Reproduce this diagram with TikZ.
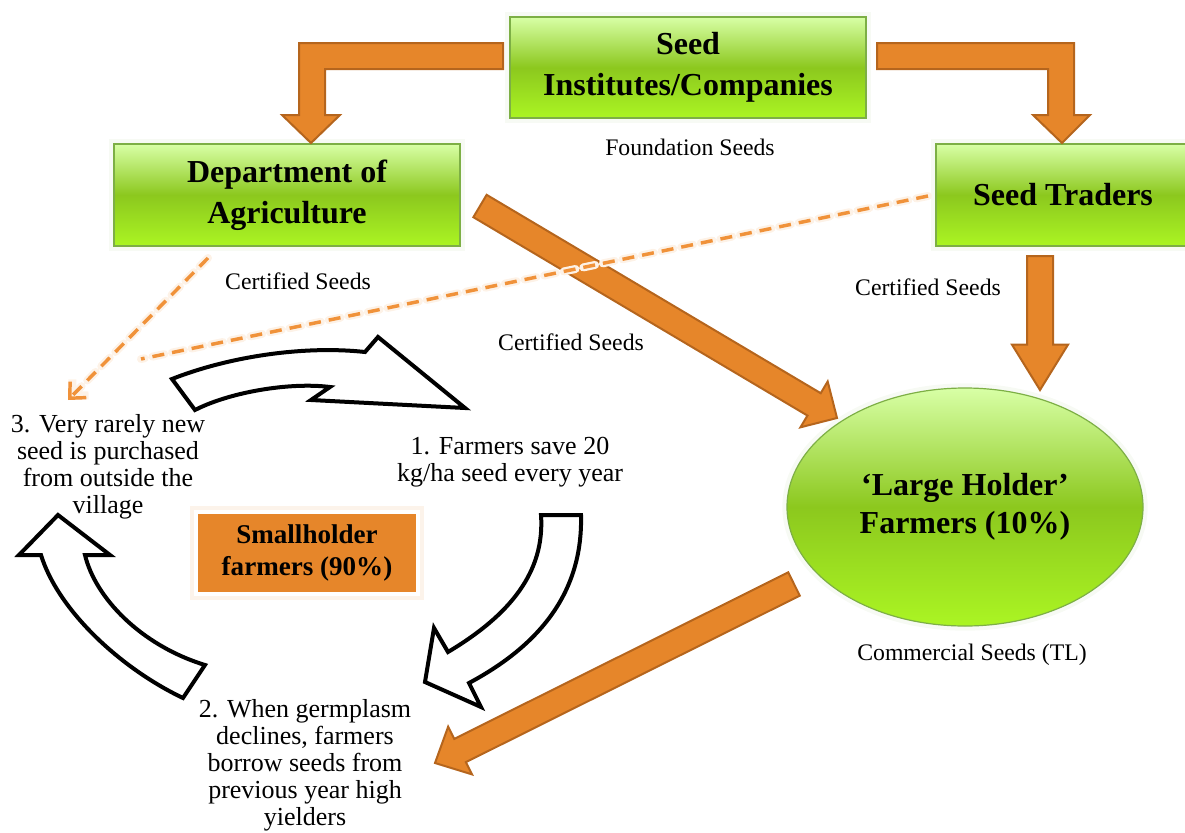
\documentclass[tikz,border=0pt]{standalone}
\usepackage{fontspec}
\setmainfont{Liberation Serif}
\usetikzlibrary{arrows.meta,calc,shapes.geometric}

\definecolor{seedorange}{HTML}{E6862A}
\definecolor{seedorangedark}{HTML}{B5651D}
\definecolor{dashorange}{HTML}{F0923A}
\definecolor{greentop}{HTML}{D8FFA6}
\definecolor{greenmid}{HTML}{8CC81E}
\definecolor{greenbot}{HTML}{ABF523}
\definecolor{greenline}{HTML}{7DAF45}

\tikzset{
  greenbox/.style={draw=greenline, line width=0.9pt, top color=greentop,
    bottom color=greenbot, middle color=greenmid, align=center, inner sep=0pt,
    font=\bfseries\fontsize{24}{31}\selectfont,
    preaction={draw=greenline!6, line width=7pt}},
  orangebox/.style={fill=seedorange, draw=white, line width=2.5pt, align=center,
    inner sep=0pt, font=\bfseries\fontsize{20.3}{24}\selectfont,
    preaction={draw=seedorange!10, line width=9pt}},
  blockarrow/.style={fill=seedorange, draw=seedorangedark, line width=1.5pt},
  cyclearrow/.style={fill=white, draw=black, line width=3pt},
  dashlink/.style={draw=dashorange, line width=2.6pt, dash pattern=on 9pt off 6pt,
    preaction={draw=dashorange!12, line width=6pt, dash pattern=on 9pt off 6pt,
      line cap=round}},
  steptext/.style={align=center, inner sep=0pt, font=\fontsize{19.5}{20.25}\selectfont},
  seedlabel/.style={inner sep=0pt, font=\fontsize{17.8}{20}\selectfont},
}

% straight block arrow: start, tip, head length, head half width
\newcommand\blockarrow[4]{%
  \coordinate (ba-h) at ($(#2)!#3!(#1)$);
  \draw[blockarrow] ($(#1)!9.75pt!90:(#2)$) -- ($(ba-h)!9.75pt!90:(#2)$)
    -- ($(ba-h)!#4!90:(#2)$) -- (#2) -- ($(ba-h)!#4!-90:(#2)$)
    -- ($(ba-h)!9.75pt!-90:(#2)$) -- ($(#1)!9.75pt!-90:(#2)$) -- cycle;
}

\begin{document}
\begin{tikzpicture}[x=0.75pt,y=-0.75pt]
    \useasboundingbox (0,0) rectangle (1185,832);

    % Suppliers
    \node[greenbox, minimum width=267pt, minimum height=75.75pt] (inst) at (688,67.5) {Seed\\Institutes/Companies};
    \node[greenbox, minimum width=259.5pt, minimum height=76.5pt] (dept) at (287,195) {Department of\\Agriculture};
    \node[greenbox, minimum width=190.5pt, minimum height=76.5pt] (traders) at (1063,195) {Seed Traders};
    \node[greenbox, ellipse, minimum width=267pt, minimum height=178.5pt,
      font=\bfseries\fontsize{24}{28.5}\selectfont] (large) at (965,507) {`Large Holder'\\Farmers (10\%)};

    % Flows out of the institutes
    \draw[blockarrow] (503,43) -- (299,43) -- (299,115) -- (282,115) -- (311,143)
      -- (340,115) -- (325,115) -- (325,69) -- (503,69) -- cycle;
    \draw[blockarrow] (877,43) -- (1074,43) -- (1074,115) -- (1090,115) -- (1062,143)
      -- (1033,115) -- (1048,115) -- (1048,69) -- (877,69) -- cycle;

    \coordinate (d1s) at (480,206);
    \coordinate (d1e) at (837,418);
    \blockarrow{d1s}{d1e}{20pt}{20pt}
    \coordinate (d2s) at (794,584);
    \coordinate (d2e) at (435,763);
    \blockarrow{d2s}{d2e}{21pt}{20pt}
    \coordinate (d3s) at (1040,256);
    \coordinate (d3e) at (1040,390);
    \blockarrow{d3s}{d3e}{34pt}{21pt}

    % Smallholder cycle
    \node[orangebox, minimum width=166.5pt, minimum height=61.5pt] (small) at (307,553) {Smallholder\\farmers (90\%)};
    \node[steptext] (save) at (510,462) {1. Farmers save 20\\kg/ha seed every year};
    \node[steptext] (borrow) at (305,765) {2. When germplasm\\declines, farmers\\borrow seeds from\\previous year high\\yielders};
    \node[steptext] (rare) at (108,467) {3. Very rarely new\\seed is purchased\\from outside the\\village};

    \draw[cyclearrow] (172,379) .. controls (225,358) and (300,345) .. (365,352) -- (378,337)
      -- (465,408) -- (311,400) -- (330,387) .. controls (290,382) and (230,392) .. (195,410) -- cycle;
    \draw[cyclearrow] (541,515) -- (581,515) .. controls (583,592) and (540,645) .. (469,683)
      -- (481,707) -- (425,682) -- (434,628) -- (448,652) .. controls (510,615) and (545,572) .. cycle;
    \draw[cyclearrow] (205,665) -- (183,698) .. controls (120,668) and (58,610) .. (41,555)
      -- (19,555) -- (58,515) -- (110,555) -- (85,555) .. controls (95,597) and (140,645) .. cycle;

    % Occasional purchases
    \coordinate (deptfoot) at (208,258);
    \coordinate (rarehead) at (68,400);
    \draw[dashlink, -{Straight Barb[length=9pt,width=17pt]}] (deptfoot) -- (rarehead);
    \coordinate (traderside) at (928,196);
    \coordinate (cycletop) at (141,359);
    \draw[dashlink] (traderside) -- (cycletop);

    % Seed classes
    \node[seedlabel] (found) at (690,147) {Foundation Seeds};
    \node[seedlabel] (certa) at (298,281) {Certified Seeds};
    \node[seedlabel] (certb) at (571,342) {Certified Seeds};
    \node[seedlabel] (certc) at (928,287) {Certified Seeds};
    \node[seedlabel] (comm) at (972,655) {Commercial Seeds (TL)};
\end{tikzpicture}
\end{document}
